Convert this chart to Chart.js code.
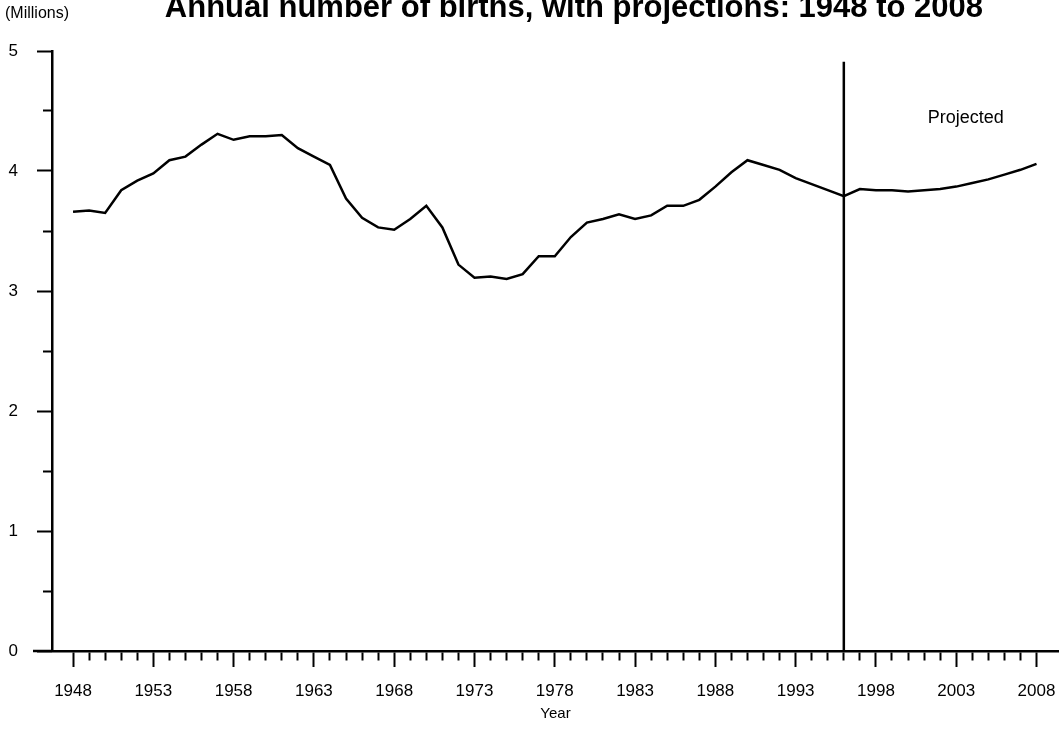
<!DOCTYPE html>
<html>
<head>
<meta charset="utf-8">
<script src="https://cdn.jsdelivr.net/npm/chart.js@4/dist/chart.umd.min.js"></script>
<style>
  body { margin: 0; background: #fff; }
</style>
</head>
<body>
<canvas id="birthsChart" width="1059" height="732"></canvas>
<script>
// Annual number of births, 1948 to 1996 observed, projected to 2008 (millions).
const years = [
    1948, 1949, 1950, 1951, 1952, 1953, 1954, 1955, 1956, 1957,
    1958, 1959, 1960, 1961, 1962, 1963, 1964, 1965, 1966, 1967,
    1968, 1969, 1970, 1971, 1972, 1973, 1974, 1975, 1976, 1977,
    1978, 1979, 1980, 1981, 1982, 1983, 1984, 1985, 1986, 1987,
    1988, 1989, 1990, 1991, 1992, 1993, 1994, 1995, 1996, 1997,
    1998, 1999, 2000, 2001, 2002, 2003, 2004, 2005, 2006, 2007,
    2008
];
const births = [
    3.66, 3.67, 3.65, 3.84, 3.92, 3.98, 4.09, 4.12, 4.22, 4.31,
    4.26, 4.29, 4.29, 4.30, 4.19, 4.12, 4.05, 3.77, 3.61, 3.53,
    3.51, 3.60, 3.71, 3.53, 3.22, 3.11, 3.12, 3.10, 3.14, 3.29,
    3.29, 3.45, 3.57, 3.60, 3.64, 3.60, 3.63, 3.71, 3.71, 3.76,
    3.87, 3.99, 4.09, 4.05, 4.01, 3.94, 3.89, 3.84, 3.79, 3.85,
    3.84, 3.84, 3.83, 3.84, 3.85, 3.87, 3.90, 3.93, 3.97, 4.01,
    4.06
];

// Year where the projection starts, and the height of its marker line.
const projectionStart = 1996;
const projectionLineTop = 4.91;

// Tick labels.
const xLabelYears = [1948, 1953, 1958, 1963, 1968, 1973, 1978, 1983, 1988, 1993, 1998, 2003, 2008];
const yTickLabels = ['0', '1', '2', '3', '4', '5'];

const titleText = 'Annual number of births, with projections: 1948 to 2008';
const fontFamily = '"Liberation Sans", Arial, Helvetica, sans-serif';

// Draws the cut-off title, the unit label, the "Projected" note and the
// stub of the x axis that runs past the y axis.
const extrasPlugin = {
    id: 'extras',
    afterDraw(chart) {
        const ctx = chart.ctx;
        const area = chart.chartArea;
        const x = chart.scales.x;
        const y = chart.scales.y;
        ctx.save();
        ctx.fillStyle = '#000';

        ctx.font = 'bold 31px ' + fontFamily;
        ctx.textAlign = 'right';
        ctx.textBaseline = 'alphabetic';
        ctx.fillText(titleText, 983, 17);

        ctx.font = '16px ' + fontFamily;
        ctx.textAlign = 'left';
        ctx.textBaseline = 'middle';
        ctx.fillText('(Millions)', 5, 14);

        ctx.font = '18px ' + fontFamily;
        ctx.textAlign = 'center';
        ctx.fillText('Projected', x.getPixelForValue(2003.6), y.getPixelForValue(4.44));

        ctx.strokeStyle = '#000';
        ctx.lineWidth = 2.5;
        ctx.beginPath();
        ctx.moveTo(33, area.bottom);
        ctx.lineTo(area.left, area.bottom);
        ctx.stroke();
        ctx.restore();
    }
};

const ctx = document.getElementById('birthsChart').getContext('2d');

new Chart(ctx, {
    type: 'line',
    data: {
        datasets: [{
            data: years.map((year, i) => ({ x: year, y: births[i] })),
            borderColor: '#000',
            borderWidth: 2.5,
            pointRadius: 0,
            tension: 0,
            clip: false
        }, {
            // vertical divider between observed and projected years
            data: [{ x: projectionStart, y: 0 }, { x: projectionStart, y: projectionLineTop }],
            borderColor: '#000',
            borderWidth: 2.5,
            pointRadius: 0
        }]
    },
    options: {
        responsive: false,
        animation: false,
        events: [],
        layout: {
            padding: { top: 51, right: 0, bottom: 0, left: 0 }
        },
        plugins: {
            legend: { display: false },
            title: { display: false },
            tooltip: { enabled: false }
        },
        scales: {
            x: {
                type: 'linear',
                min: 1946.69,
                max: 2009.4,
                border: { color: '#000', width: 2.5 },
                grid: {
                    drawOnChartArea: false,
                    drawTicks: true,
                    tickLength: 16,
                    tickColor: '#000',
                    tickWidth: 2,
                    // short ticks for every year, long ticks at the labelled years
                    tickBorderDash: c => xLabelYears.includes(c.tick && c.tick.value) ? [] : [8, 100]
                },
                ticks: {
                    autoSkip: false,
                    maxRotation: 0,
                    color: '#000',
                    padding: 14,
                    font: { family: fontFamily, size: 17 },
                    callback: value => xLabelYears.includes(value) ? String(value) : ''
                },
                title: {
                    display: true,
                    text: 'Year',
                    color: '#000',
                    font: { family: fontFamily, size: 15 },
                    padding: { top: 0, bottom: 9 }
                },
                afterBuildTicks: axis => {
                    const ticks = [];
                    for (let yr = years[0]; yr <= years[years.length - 1]; yr++) {
                        ticks.push({ value: yr });
                    }
                    axis.ticks = ticks;
                },
                afterFit: axis => {
                    axis.height = 81;
                    axis.paddingLeft = 0;
                    axis.paddingRight = 0;
                }
            },
            y: {
                min: 0,
                max: 5,
                border: { color: '#000', width: 2.5 },
                grid: {
                    drawOnChartArea: false,
                    drawTicks: true,
                    tickLength: 15,
                    tickColor: '#000',
                    tickWidth: 2,
                    tickBorderDash: c => Number.isInteger(c.tick && c.tick.value) ? [] : [0, 6, 9, 100]
                },
                ticks: {
                    color: '#000',
                    padding: 19,
                    font: { family: fontFamily, size: 17 },
                    callback: value => Number.isInteger(value) ? yTickLabels[value] : ''
                },
                afterBuildTicks: axis => {
                    const ticks = [];
                    for (let v = 0; v <= 5; v += 0.5) {
                        ticks.push({ value: v });
                    }
                    axis.ticks = ticks;
                },
                afterFit: axis => {
                    axis.width = 52;
                    axis.paddingTop = 0;
                    axis.paddingBottom = 0;
                }
            }
        }
    },
    plugins: [extrasPlugin]
});
</script>
</body>
</html>
